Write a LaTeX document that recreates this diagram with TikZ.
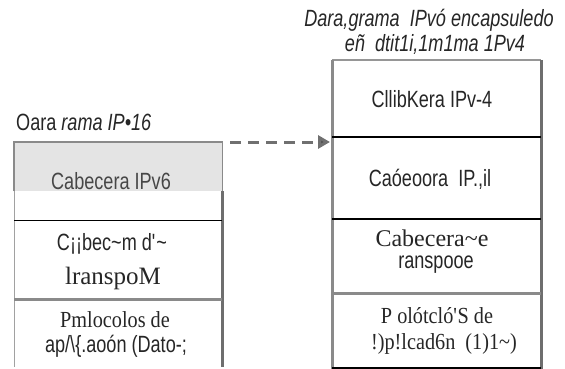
\documentclass[tikz,border=0pt]{standalone}
\usepackage{fontspec}
\setmainfont{Liberation Sans}[FakeStretch=0.77]
\newfontfamily\rmwide{Liberation Serif}
\newfontfamily\rmnarrow{Liberation Serif}[FakeStretch=0.88]
\usetikzlibrary{arrows.meta}

\definecolor{hdrfill}{HTML}{E4E4E4}
\definecolor{rulegray}{HTML}{8A8A8A}
\definecolor{sidegray}{HTML}{6E6E6E}
\definecolor{inkgray}{HTML}{262626}
\definecolor{arrowgray}{HTML}{707070}

\begin{document}
\begin{tikzpicture}[x=1pt,y=-1pt,
    layer/.style={anchor=north west, inner sep=0pt, minimum width=#1},
    lbl/.style={anchor=base, inner sep=0pt, text=inkgray, font=\fontsize{23.5}{25}\selectfont},
    rmw/.style={lbl, font=\rmwide\fontsize{25}{27}\selectfont},
    rmn/.style={lbl, font=\rmnarrow\fontsize{23}{25}\selectfont},
    dasharrow/.style={draw=arrowgray, line width=3pt, dash pattern=on 11pt off 7pt,
      -{Triangle[length=12pt,width=13pt,fill=sidegray!75!black]}}]

    \useasboundingbox (0,0) rectangle (565,369);

    % Left stack: IPv6 datagram
    \node [layer=208pt, minimum height=49pt, fill=hdrfill] (v6hdr)   at (14,142) {};
    \node [layer=208pt, minimum height=29pt]               (v6gap)   at (v6hdr.south west) {};
    \node [layer=208pt, minimum height=78pt]               (v6trans) at (v6gap.south west) {};
    \node [layer=208pt, minimum height=67pt]               (v6app)   at (v6trans.south west) {};

    % Right stack: IPv4 datagram
    \node [layer=209pt, minimum height=77pt] (v4hdr)   at (332,60) {};
    \node [layer=209pt, minimum height=81pt] (v4tun)   at (v4hdr.south west) {};
    \node [layer=209pt, minimum height=74pt] (v4trans) at (v4tun.south west) {};
    \node [layer=209pt, minimum height=75pt] (v4app)   at (v4trans.south west) {};

    % Outlines
    \draw [rulegray, line width=1.2pt] (v6hdr.south west) -- (v6hdr.north west)
      -- (v6hdr.north east) -- (v6hdr.south east);
    \draw [rulegray!80, line width=1pt] (v6gap.north west) -- (v6app.south west);
    \draw [sidegray, line width=3pt] (v6gap.north east) -- (v6app.south east);
    \draw [rulegray!90, line width=2pt] (v4hdr.north west) -- (v4hdr.north east);
    \draw [rulegray, line width=3pt] (v4hdr.north west) -- (v4app.south west);
    \draw [sidegray, line width=2.5pt] (v4hdr.north east) -- (v4app.south east);

    % Separators between layers
    \foreach \b/\c/\w in {v6gap/black/1.2, v6trans/rulegray/3, v4hdr/black/2,
                          v4tun/black/2.5, v4trans/rulegray/3, v4app/black/3} {
      \draw [\c, line width=\w pt] (\b.south west) -- (\b.south east);
    }

    % Titles
    \node [lbl, anchor=base west] (t6title) at (16,130) {Oara \textit{rama IP•16}};
    \node [lbl] (t4title1) at (429,27) {\textit{Dara,grama\ \ IPvó encapsuledo}};
    \node [lbl] (t4title2) at (435,52) {\textit{eñ\ \ dtit1i,1m1ma 1Pv4}};

    % Left labels
    \node [lbl, text=inkgray!85] (t6hdr) at (111,189) {Cabecera IPv6};
    \node [lbl] (t6tr1) at (112,250) {C¡¡bec\textasciitilde m d\textquotesingle\textasciitilde};
    \node [rmw] (t6tr2) at (113,284) {lranspoM};
    \node [rmn] (t6ap1) at (115,327) {Pmlocolos de};
    \node [lbl] (t6ap2) at (116,352) {ap/\textbackslash\{.aoón (Dato-;};

    % Right labels
    \node [lbl] (t4hdr) at (432,107) {CllibKera IPv-4};
    \node [lbl] (t4tun) at (430,186) {Caóeoora\ \ IP.,il};
    \node [rmw, font=\rmwide\fontsize{24}{26}\selectfont] (t4tr1) at (432,246) {Cabecera\textasciitilde e};
    \node [lbl] (t4tr2) at (436,268) {ranspooe};
    \node [rmn] (t4ap1) at (437,323) {P olótcló\textquotesingle S de};
    \node [rmn] (t4ap2) at (444,349) {!)p!lcad6n\ \ (1)1\textasciitilde)};

    % Encapsulation arrow
    \draw [dasharrow] ([xshift=8pt]v6hdr.north east) -- ([xshift=-2pt]v4tun.north west |- v6hdr.north east);

  \end{tikzpicture}
\end{document}
